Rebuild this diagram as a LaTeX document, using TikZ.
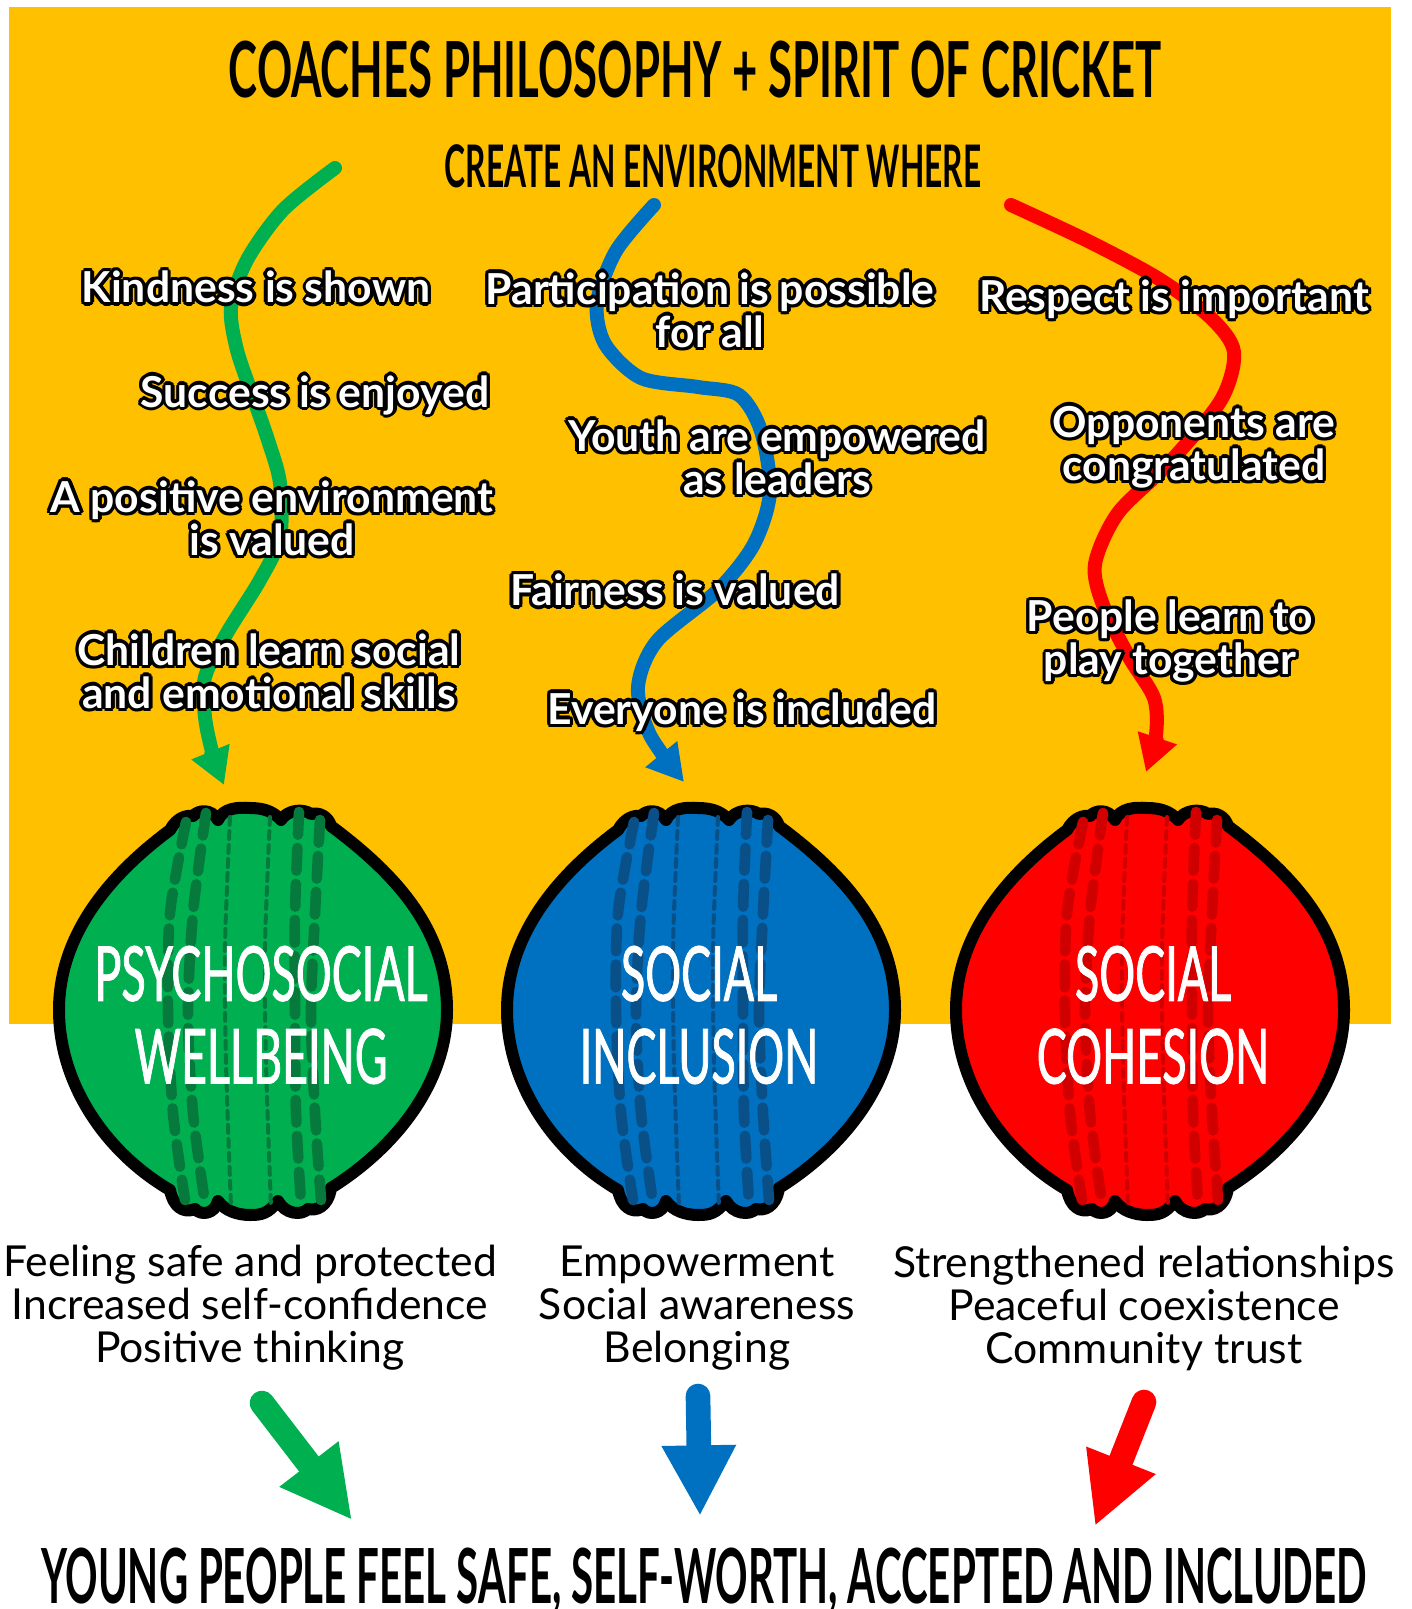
\documentclass[tikz,border=0pt]{standalone}
\usepackage{fontspec}
\setmainfont{Lato}
\newfontfamily\titlefont[FakeStretch=0.565]{Lato}
\newfontfamily\createfont[FakeStretch=0.54]{Lato}
\newfontfamily\closefont[FakeStretch=0.53]{Lato}
\newfontfamily\ballfont[FakeStretch=0.59,FakeBold=1]{Lato}
\usetikzlibrary{arrows.meta}

\definecolor{pitchyellow}{HTML}{FFC000}
\definecolor{ballgreen}{HTML}{00B050}
\definecolor{ballblue}{HTML}{0070C0}
\definecolor{ballred}{HTML}{FF0000}
\definecolor{seamgreen}{HTML}{067A3C}
\definecolor{seamblue}{HTML}{0A5088}
\definecolor{seamred}{HTML}{D00000}

% white words with a black rim
\newcommand\outlined[1]{%
  \foreach \a in {0,30,...,330}{%
    \makebox[0pt][l]{\smash{\hspace{\fpeval{2.5*cosd(\a)}pt}\raisebox{\fpeval{2.5*sind(\a)}pt}{\color{black}#1}}}}%
  #1}

\tikzset{
  wave/.style={line width=10.5pt, line cap=round, -{Triangle[length=27pt,width=29pt]}},
  bigarrow/.style={line width=18.5pt, line cap=round, -{Triangle[length=53pt,width=52pt]}},
  rimlabel/.style={text=white, align=center, inner sep=0pt, font=\fontsize{32}{32.25}\selectfont\bfseries},
  gain/.style={align=center, inner sep=0pt, font=\fontsize{32}{32.25}\selectfont},
  headline/.style={inner sep=0pt, font=#1\bfseries},
  balltext/.style={text=white, align=center, inner sep=0pt, font=\ballfont\fontsize{57}{62}\selectfont},
  outerseam/.style={line width=8pt, line cap=round, dash pattern=on 17pt off 10pt},
  innerseam/.style={line width=3pt, line cap=round, dash pattern=on 6pt off 4.5pt}
}

\begin{document}
\begin{tikzpicture}[x=0.75pt, y=-0.75pt]
\useasboundingbox (0,0) rectangle (1411,1609);
% 1. yellow field
\fill[pitchyellow] (9,7) rectangle (1391,1024);

% 2. heads
\node[headline=\titlefont\fontsize{58}{58}\selectfont] (title) at (695,70) {COACHES PHILOSOPHY + SPIRIT OF CRICKET};
\node[headline=\createfont\fontsize{44}{44}\selectfont] (create) at (713,166) {CREATE AN ENVIRONMENT WHERE};

% 3. wavy arrows
\coordinate (greenfrom) at (335,168);
\coordinate (bluefrom)  at (654,205);
\coordinate (redfrom)   at (1011,205);
\draw[wave, ballgreen] plot[smooth] coordinates {(greenfrom) (283,210) (247,260) (231,307) (237,350) (253,397) (268,440)
  (280,483) (280,537) (260,580) (227,633) (205,677) (205,717) (213,755) (224,785)};
\draw[wave, ballblue] plot[smooth] coordinates {(bluefrom) (616,251) (597,303) (605,344) (641,378) (698,387) (739,395)
  (761,431) (770,492) (754,544) (718,590) (657,641) (638,687) (650,735) (684,782)};
\draw[wave, ballred] plot[smooth] coordinates {(redfrom) (1088,241) (1159,279) (1211,318) (1234,352) (1221,400) (1170,462)
  (1118,513) (1095,564) (1103,605) (1129,657) (1154,698) (1156,735) (1146,772)};

% 4. labels on the arrows
\node[rimlabel] (kind)    at (256,287) {\outlined{Kindness is shown}};
\node[rimlabel] (success) at (315,395) {\outlined{Success is enjoyed}};
\node[rimlabel] (positive) at (272,518) {\outlined{A positive environment}\\\outlined{is valued}};
\node[rimlabel] (children) at (269,671) {\outlined{Children learn social}\\\outlined{and emotional skills}};
\node[rimlabel] (part)    at (710,310) {\outlined{Participation is possible}\\\outlined{for all}};
\node[rimlabel] (youth)   at (777,457) {\outlined{Youth are empowered}\\\outlined{as leaders}};
\node[rimlabel] (fair)    at (675,590) {\outlined{Fairness is valued}};
\node[rimlabel] (everyone) at (742,712) {\outlined{Everyone is included}};
\node[rimlabel] (respect) at (1174,299) {\outlined{Respect is important}};
\node[rimlabel] (opponents) at (1194,447) {\outlined{Opponents are}\\\outlined{congratulated}};
\node[rimlabel] (people)  at (1170,641) {\outlined{People learn to}\\\outlined{play together}};

% 5. the three balls
\foreach \cx/\tx/\col/\dark/\nm/\txt in {253/261/ballgreen/seamgreen/psycho/{PSYCHOSOCIAL\\WELLBEING},
    701/699/ballblue/seamblue/inclusion/{SOCIAL\\INCLUSION},
    1150/1153/ballred/seamred/cohesion/{SOCIAL\\COHESION}}{
  \begin{scope}[shift={(\cx,1011)}]
    \draw[fill=\col, line width=9pt, line join=round] (-83,-181)
      .. controls (-76,-194) and (-66,-196) .. (-60,-195) .. controls (-55,-201) and (-42,-203) .. (-35,-191)
      .. controls (-30,-203) and (-15,-204) .. (-3,-203) .. controls (10,-203) and (20,-200) .. (28,-191)
      .. controls (34,-201) and (50,-203) .. (58,-197) .. controls (66,-199) and (75,-195) .. (78,-185)
      .. controls (145,-135) and (194,-80) .. (194,-1) .. controls (194,70) and (145,135) .. (78,177)
      .. controls (75,197) and (62,200) .. (55,198) .. controls (48,205) and (32,203) .. (25,190)
      .. controls (15,203) and (8,204) .. (-3,204) .. controls (-15,204) and (-28,200) .. (-35,190)
      .. controls (-38,203) and (-52,205) .. (-58,198) .. controls (-70,203) and (-80,195) .. (-83,179)
      .. controls (-145,143) and (-194,75) .. (-194,-1) .. controls (-194,-75) and (-145,-135) .. cycle;
    % 5.1. stitches
    \draw[outerseam, \dark] plot[smooth] coordinates {(-67,-189) (-83,-98) (-85,2) (-80,102) (-68,189)};
    \draw[outerseam, \dark] plot[smooth] coordinates {(-47,-198) (-60,-98) (-65,2) (-60,102) (-48,192)};
    \draw[innerseam, \dark] plot[smooth] coordinates {(-23,-194) (-28,-64) (-27,52) (-22,196)};
    \draw[innerseam, \dark] plot[smooth] coordinates {(17,-194) (12,-64) (13,52) (18,196)};
    \draw[outerseam, \dark] plot[smooth] coordinates {(46,-199) (42,-98) (42,2) (43,102) (48,192)};
    \draw[outerseam, \dark] plot[smooth] coordinates {(67,-191) (62,-98) (58,2) (62,102) (68,189)};
  \end{scope}
  \node[balltext] (\nm) at (\tx,1015) {\txt};
}

% 6. what each ball gives
\node[gain] (gainpsycho) at (250,1308) {Feeling safe and protected\\Increased self-confidence\\Positive thinking};
\node[gain] (gaininclusion) at (697,1308) {Empowerment\\Social awareness\\Belonging};
\node[gain] (gaincohesion) at (1144,1308) {Strengthened relationships\\Peaceful coexistence\\Community trust};

% 7. arrows down and the last line
\coordinate (greentop) at (262,1403);
\coordinate (bluetop)  at (698,1396);
\coordinate (redtop)   at (1144,1402);
\node[headline=\closefont\fontsize{57}{57}\selectfont] (closing) at (704,1581) {YOUNG PEOPLE FEEL SAFE, SELF-WORTH, ACCEPTED AND INCLUDED};
\coordinate (greenend) at (352,1520);
\coordinate (blueend)  at (700,1516);
\coordinate (redend)   at (1095,1526);
\draw[bigarrow, ballgreen] (greentop) -- (greenend);
\draw[bigarrow, ballblue]  (bluetop) -- (blueend);
\draw[bigarrow, ballred]   (redtop) -- (redend);
\end{tikzpicture}
\end{document}
